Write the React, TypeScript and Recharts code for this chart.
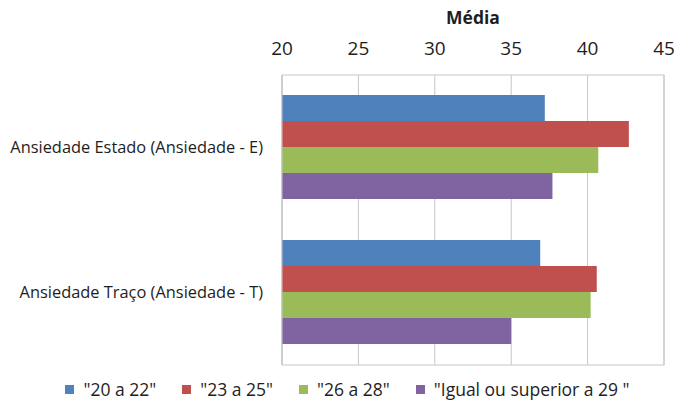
import { BarChart, Bar, XAxis, YAxis, CartesianGrid, Legend, ReferenceArea } from 'recharts'

const categories = ['Ansiedade Estado (Ansiedade - E)', 'Ansiedade Traço (Ansiedade - T)']
const seriesNames = ['"20 a 22"', '"23 a 25"', '"26 a 28"', '"Igual ou superior a 29 "']
const seriesColors = ['#4F81BD', '#C0504D', '#9BBB59', '#8064A2']
const age20to22 = [37.2, 36.9]
const age23to25 = [42.7, 40.6]
const age26to28 = [40.7, 40.2]
const age29plus = [37.7, 35.0]
const xTicks = [20, 25, 30, 35, 40, 45]

const seriesValues = [age20to22, age23to25, age26to28, age29plus]
const data = categories.map((name, i) => {
  const row: Record<string, any> = { name }
  seriesValues.forEach((vals, s) => { row['s' + s] = vals[i] })
  return row
})

const FONT = '"Open Sans", sans-serif'
const TEXT = '#1e1e1e'
const GRID = '#c6c6c6'

// ── Legend ───────────────────────────────────────────────────────────────────
function LegendRow() {
  return (
    <div style={{ display: 'flex', justifyContent: 'center', gap: 26, fontFamily: FONT, fontSize: 17.5, color: TEXT, paddingLeft: 18 }}>
      {seriesNames.map((n, i) => (
        <div key={n} style={{ display: 'flex', alignItems: 'center', gap: 9 }}>
          <div style={{ width: 9, height: 9, background: seriesColors[i] }} />
          <span>{n}</span>
        </div>
      ))}
    </div>
  )
}

export default function App() {
  return (
    <div style={{ position: 'absolute', left: 0, top: 0, width: 677, height: 401, background: '#fff' }}>
      <BarChart
        width={677}
        height={401}
        data={data}
        layout="vertical"
        margin={{ top: 0, right: 13, bottom: 36, left: 0 }}
        barCategoryGap={20}
        barGap={0}
        style={{ fontFamily: FONT }}
      >
        <CartesianGrid stroke={GRID} horizontal={false} />
        <ReferenceArea x1={20} x2={45} fill="none" stroke={GRID} strokeOpacity={1} />
        <XAxis
          type="number"
          orientation="top"
          domain={[20, 45]}
          ticks={xTicks}
          height={75}
          axisLine={false}
          tickLine={false}
          tickSize={0}
          tickMargin={20}
          tick={{ fill: TEXT, fontSize: 19 }}
          label={{ value: 'Média', position: 'insideTop', offset: 12, fill: TEXT, fontSize: 17.5, fontWeight: 700 }}
        />
        <YAxis
          type="category"
          dataKey="name"
          width={282}
          axisLine={{ stroke: GRID }}
          tickLine={false}
          tickSize={0}
          tickMargin={19}
          tick={{ fill: TEXT, fontSize: 16.4 }}
        />
        <Legend
          layout="horizontal"
          verticalAlign="middle"
          align="center"
          content={<LegendRow />}
          wrapperStyle={{ top: 377, left: 0, width: 677 }}
        />
        {seriesNames.map((n, i) => (
          <Bar key={n} dataKey={'s' + i} name={n} fill={seriesColors[i]} isAnimationActive={false} />
        ))}
      </BarChart>
    </div>
  )
}
